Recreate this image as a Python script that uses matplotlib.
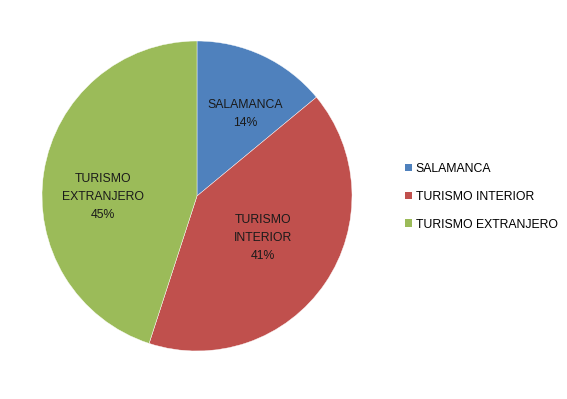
import matplotlib
matplotlib.use("Agg")
import matplotlib.pyplot as plt
from matplotlib.patches import Patch

categories = ["SALAMANCA", "TURISMO INTERIOR", "TURISMO EXTRANJERO"]
values = [14, 41, 45]
inner_labels = ["SALAMANCA\n14%", "TURISMO\nINTERIOR\n41%", "TURISMO\nEXTRANJERO\n45%"]
colors = ["#4F81BD", "#C0504D", "#9BBB59"]

plt.rcParams['font.family'] = ['Liberation Sans', 'DejaVu Sans']

W, H = 567, 399
fig = plt.figure(figsize=(W / 100, H / 100), dpi=100)
fig.patch.set_facecolor("white")

cx, cy, r = 197, 196, 155
ax = fig.add_axes([(cx - r) / W, (H - cy - r) / H, 2 * r / W, 2 * r / H])
wedges, _ = ax.pie(values, colors=colors, startangle=90, counterclock=False,
                   radius=1.0, wedgeprops=dict(linewidth=0.3, edgecolor="white"))
ax.set_xlim(-1, 1)
ax.set_ylim(-1, 1)
ax.set_aspect("equal")
ax.axis("off")

# label anchor (pixel positions of text centres)
label_px = [(245, 114), (263, 238), (103, 197)]
for (px, py), txt in zip(label_px, inner_labels):
    x = (px - cx) / r
    y = (cy - py) / r
    ax.text(x, y, txt, ha="center", va="center", fontsize=8.8,
            color="#1a1a1a", linespacing=1.65)

handles = [Patch(facecolor=c, edgecolor="none") for c in colors]
fig.legend(handles, categories, loc="upper left",
           bbox_to_anchor=(400 / W, (H - 158) / H), frameon=False,
           fontsize=8.8, handlelength=0.6, handleheight=0.6,
           handletextpad=0.3, labelspacing=1.3, borderaxespad=0)

fig.savefig("out.png", dpi=100, facecolor="white")
